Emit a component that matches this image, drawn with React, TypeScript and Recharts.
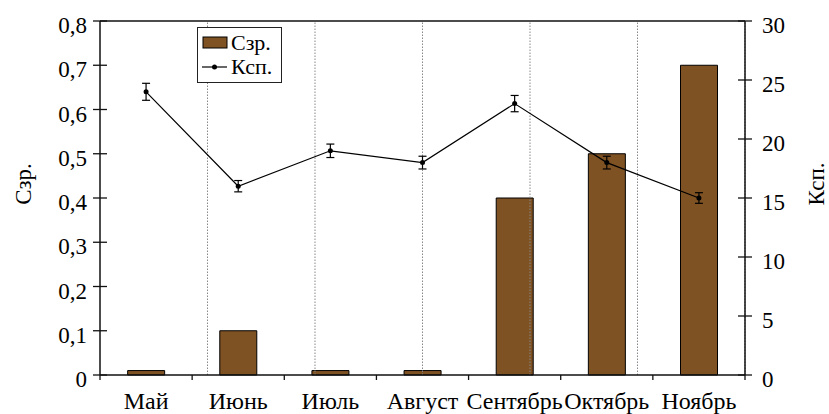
import React from 'react';
import {
  ComposedChart,
  Bar,
  Line,
  XAxis,
  YAxis,
  ErrorBar,
  ReferenceLine,
  Legend,
} from 'recharts';

const months = ['Май', 'Июнь', 'Июль', 'Август', 'Сентябрь', 'Октябрь', 'Ноябрь'];
const czrValues = [0.01, 0.1, 0.01, 0.01, 0.4, 0.5, 0.7];
const kspValues = [24, 16, 19, 18, 23, 18, 15];
const kspErrors = [0.72, 0.48, 0.57, 0.54, 0.69, 0.54, 0.45];
const leftTicks = [0, 0.1, 0.2, 0.3, 0.4, 0.5, 0.6, 0.7, 0.8];
const rightTicks = [0, 5, 10, 15, 20, 25, 30];
const boundaries = [1, 2, 3, 4, 5, 6];

const data = months.map((m, i) => ({
  month: m,
  czr: czrValues[i],
  ksp: kspValues[i],
  err: kspErrors[i],
}));

const FONT = 'Liberation Serif, Times New Roman, serif';
const BROWN = '#7F5224';
const AXIS = '#111';

const fmtLeft = (v: number) => (v === 0 ? '0' : v.toFixed(1).replace('.', ','));

const LeftTick = (props: any) => {
  const { x, y, payload } = props;
  return (
    <g>
      <line x1={x + 6} x2={x + 20} y1={y} y2={y} stroke={AXIS} strokeWidth={1.3} />
      <text x={x} y={y} dy={12} textAnchor="end" style={{ fontFamily: FONT }} fontSize={23} fill="#000">
        {fmtLeft(payload.value)}
      </text>
    </g>
  );
};

const RightTick = (props: any) => {
  const { x, y, payload } = props;
  return (
    <g>
      <line x1={x - 24} x2={x - 10} y1={y} y2={y} stroke={AXIS} strokeWidth={1.3} />
      <text x={x} y={y} dy={12} textAnchor="start" style={{ fontFamily: FONT }} fontSize={23} fill="#000">
        {payload.value}
      </text>
    </g>
  );
};

const CatTick = (props: any) => {
  const { x, y, payload, index, visibleTicksCount } = props;
  const off = payload && typeof payload.offset === 'number' ? payload.offset : 0;
  const last = index === (visibleTicksCount ?? months.length) - 1;
  return (
    <g>
      <line x1={x - off} x2={x - off} y1={y - 5} y2={y} stroke={AXIS} strokeWidth={1.3} />
      {last && <line x1={x + off} x2={x + off} y1={y - 5} y2={y} stroke={AXIS} strokeWidth={1.3} />}
      <text x={x} y={y} dy={29} textAnchor="middle" style={{ fontFamily: FONT }} fontSize={24} fill="#000">
        {payload.value}
      </text>
    </g>
  );
};

const LeftLabel = (props: any) => {
  const vb = props.viewBox || { x: 0, y: 0, width: 100, height: 354 };
  const cx = vb.x + 23;
  const cy = vb.y + vb.height / 2 - 14;
  return (
    <text
      x={cx}
      y={cy}
      transform={`rotate(-90, ${cx}, ${cy})`}
      textAnchor="middle"
      dominantBaseline="central"
      style={{ fontFamily: FONT }}
      fontSize={23}
      fill="#000"
    >
      Сзр.
    </text>
  );
};

const RightLabel = (props: any) => {
  const vb = props.viewBox || { x: 745, y: 0, width: 84, height: 354 };
  const cx = vb.x + 71;
  const cy = vb.y + vb.height / 2 - 14;
  return (
    <text
      x={cx}
      y={cy}
      transform={`rotate(-90, ${cx}, ${cy})`}
      textAnchor="middle"
      dominantBaseline="central"
      style={{ fontFamily: FONT }}
      fontSize={23}
      fill="#000"
    >
      Ксп.
    </text>
  );
};

const LegendBox = () => (
  <div
    style={{
      width: 85,
      height: 56,
      boxSizing: 'border-box',
      border: '1px solid #222',
      background: '#fff',
      padding: '3px 4px',
      fontFamily: FONT,
      fontSize: 22,
      color: '#000',
    }}
  >
    <div style={{ display: 'flex', alignItems: 'center', height: 24 }}>
      <svg width={26} height={14} style={{ flex: 'none' }}>
        <rect x={1} y={1} width={24} height={11} fill={BROWN} stroke="#000" strokeWidth={1} />
      </svg>
      <span style={{ marginLeft: 3, lineHeight: '24px' }}>Сзр.</span>
    </div>
    <div style={{ display: 'flex', alignItems: 'center', height: 24 }}>
      <svg width={26} height={14} style={{ flex: 'none' }}>
        <line x1={0} x2={25} y1={7} y2={7} stroke="#000" strokeWidth={1.2} />
        <circle cx={12.5} cy={7} r={2.5} fill="#000" />
      </svg>
      <span style={{ marginLeft: 3, lineHeight: '24px' }}>Ксп.</span>
    </div>
  </div>
);

export default function App() {
  return (
    <div style={{ position: 'absolute', left: 0, top: 0, width: 829, height: 414, background: '#fff' }}>
      <ComposedChart
        width={829}
        height={414}
        data={data}
        margin={{ top: 21, right: 0, bottom: 3, left: 0 }}
        barCategoryGap="30%"
        style={{ fontFamily: FONT }}
      >
        <XAxis
          xAxisId="cat"
          dataKey="month"
          height={36}
          interval={0}
          tickLine={false}
          tickSize={5}
          tickMargin={0}
          axisLine={{ stroke: AXIS, strokeWidth: 1.5 }}
          tick={<CatTick />}
        />
        <XAxis xAxisId="n" type="number" domain={[0, 7]} hide allowDataOverflow />
        <YAxis
          yAxisId="left"
          domain={[0, 0.8]}
          ticks={leftTicks}
          width={100}
          tickSize={7}
          tickMargin={6}
          tickLine={false}
          axisLine={{ stroke: AXIS, strokeWidth: 1.5 }}
          tick={<LeftTick />}
          label={<LeftLabel />}
        />
        <YAxis
          yAxisId="right"
          orientation="right"
          domain={[0, 30]}
          ticks={rightTicks}
          width={84}
          tickSize={7}
          tickMargin={10}
          tickLine={false}
          axisLine={{ stroke: AXIS, strokeWidth: 1.5 }}
          tick={<RightTick />}
          label={<RightLabel />}
        />
        {boundaries.map((b) => (
          <ReferenceLine
            key={b}
            xAxisId="n"
            yAxisId="left"
            x={b}
            stroke="#888"
            strokeWidth={1}
            strokeDasharray="1.5 1.5"
          />
        ))}
        <ReferenceLine xAxisId="cat" yAxisId="left" y={0.8} stroke={AXIS} strokeWidth={1.5} />
        <Bar
          xAxisId="cat"
          yAxisId="left"
          dataKey="czr"
          fill={BROWN}
          stroke="#000"
          strokeWidth={1}
          isAnimationActive={false}
        />
        <Line
          xAxisId="cat"
          yAxisId="right"
          dataKey="ksp"
          stroke="#000"
          strokeWidth={1.2}
          dot={{ r: 2.5, fill: '#000', stroke: '#000', strokeWidth: 0 }}
          activeDot={false}
          isAnimationActive={false}
        >
          <ErrorBar dataKey="err" direction="y" width={4} stroke="#000" strokeWidth={1.2} isAnimationActive={false} />
        </Line>
        <Legend
          layout="vertical"
          align="center"
          verticalAlign="middle"
          content={<LegendBox />}
          wrapperStyle={{ left: 197, top: 27, width: 85, height: 56 }}
        />
      </ComposedChart>
    </div>
  );
}
